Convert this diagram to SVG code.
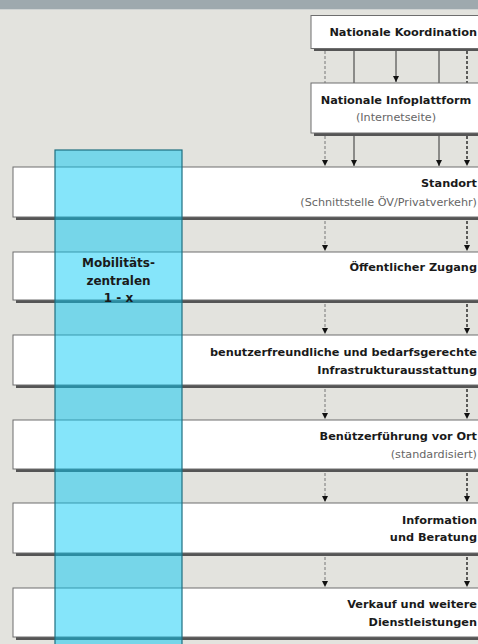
<svg xmlns="http://www.w3.org/2000/svg" width="478" height="644" viewBox="0 0 478 644">
<defs>
<style>
.bg{fill:#e3e3de}
.box{fill:#fff;stroke:#6e6e6e;stroke-width:1}
.sh{fill:#555}
.b{font-family:"DejaVu Sans",Verdana,sans-serif;font-weight:bold;font-size:11.3px;fill:#1a1a1a}
.m{font-family:"DejaVu Sans",Verdana,sans-serif;font-weight:bold;font-size:12px;fill:#1a1a1a}
.r{font-family:"DejaVu Sans",Verdana,sans-serif;font-size:11.2px;fill:#666}
.dl{stroke:#777;stroke-width:1;stroke-dasharray:3,2;fill:none}
.dr{stroke:#222;stroke-width:1.4;stroke-dasharray:3,2;fill:none}
.sl{stroke:#333;stroke-width:1;fill:none}
.col{fill:#00c8f5;fill-opacity:0.48;stroke:#1f6f80;stroke-width:1.2}
</style>
<marker id="ah" viewBox="0 0 6 6" refX="6" refY="3" markerWidth="6" markerHeight="6" markerUnits="userSpaceOnUse" orient="auto">
<path d="M0,0 L6,3 L0,6 z" fill="#111"/>
</marker>
</defs>
<rect class="bg" x="0" y="0" width="478" height="644"/>
<rect x="0" y="0" width="478" height="9" fill="#9ea9ae"/>
<line x1="0" y1="9.5" x2="478" y2="9.5" stroke="#cfd3d3" stroke-width="1"/>

<g id="connectors">
<line class="dl" x1="325" y1="51" x2="325" y2="83"/>
<line class="sl" x1="354" y1="51" x2="354" y2="83"/>
<line class="sl" x1="396" y1="51" x2="396" y2="82" marker-end="url(#ah)"/>
<line class="sl" x1="439" y1="51" x2="439" y2="83"/>
<line class="dr" x1="467" y1="51" x2="467" y2="83"/>
<line class="dl" x1="325" y1="136" x2="325" y2="166" marker-end="url(#ah)"/>
<line class="sl" x1="354" y1="136" x2="354" y2="166" marker-end="url(#ah)"/>
<line class="sl" x1="439" y1="136" x2="439" y2="166" marker-end="url(#ah)"/>
<line class="dr" x1="467" y1="136" x2="467" y2="166" marker-end="url(#ah)"/>
<line class="dl" x1="325" y1="221" x2="325" y2="251" marker-end="url(#ah)"/>
<line class="dr" x1="467" y1="221" x2="467" y2="251" marker-end="url(#ah)"/>
<line class="dl" x1="325" y1="304" x2="325" y2="334" marker-end="url(#ah)"/>
<line class="dr" x1="467" y1="304" x2="467" y2="334" marker-end="url(#ah)"/>
<line class="dl" x1="325" y1="389" x2="325" y2="419" marker-end="url(#ah)"/>
<line class="dr" x1="467" y1="389" x2="467" y2="419" marker-end="url(#ah)"/>
<line class="dl" x1="325" y1="473" x2="325" y2="502" marker-end="url(#ah)"/>
<line class="dr" x1="467" y1="473" x2="467" y2="502" marker-end="url(#ah)"/>
<line class="dl" x1="325" y1="557" x2="325" y2="587" marker-end="url(#ah)"/>
<line class="dr" x1="467" y1="557" x2="467" y2="587" marker-end="url(#ah)"/>
</g>

<g id="koordination">
<rect class="sh" x="314" y="18" width="180" height="33"/>
<rect class="box" x="311" y="15.5" width="180" height="33"/>
<text class="b" x="477" y="36" text-anchor="end">Nationale Koordination</text>
</g>

<g id="infoplattform">
<rect class="sh" x="314" y="86" width="180" height="50"/>
<rect class="box" x="311" y="83" width="180" height="50"/>
<text class="b" x="396" y="104" text-anchor="middle">Nationale Infoplattform</text>
<text class="r" x="396" y="121" text-anchor="middle">(Internetseite)</text>
</g>

<g id="standort">
<rect class="sh" x="16" y="170" width="480" height="50"/>
<rect class="box" x="13" y="167" width="480" height="50"/>
<text class="b" x="477" y="187" text-anchor="end">Standort</text>
<text class="r" x="477" y="206" text-anchor="end">(Schnittstelle ÖV/Privatverkehr)</text>
</g>

<g id="zugang">
<rect class="sh" x="16" y="255" width="480" height="48"/>
<rect class="box" x="13" y="252" width="480" height="48"/>
<text class="b" x="477" y="271" text-anchor="end">Öffentlicher Zugang</text>
</g>

<g id="infrastruktur">
<rect class="sh" x="16" y="338" width="480" height="50"/>
<rect class="box" x="13" y="335" width="480" height="50"/>
<text class="b" x="477" y="356" text-anchor="end">benutzerfreundliche und bedarfsgerechte</text>
<text class="b" x="477" y="374" text-anchor="end">Infrastrukturausstattung</text>
</g>

<g id="benuetzerfuehrung">
<rect class="sh" x="16" y="423" width="480" height="49"/>
<rect class="box" x="13" y="420" width="480" height="49"/>
<text class="b" x="477" y="440" text-anchor="end">Benützerführung vor Ort</text>
<text class="r" x="477" y="458" text-anchor="end">(standardisiert)</text>
</g>

<g id="information">
<rect class="sh" x="16" y="506" width="480" height="50"/>
<rect class="box" x="13" y="503" width="480" height="50"/>
<text class="b" x="477" y="524" text-anchor="end">Information</text>
<text class="b" x="477" y="541" text-anchor="end">und Beratung</text>
</g>

<g id="verkauf">
<rect class="sh" x="16" y="591" width="480" height="49"/>
<rect class="box" x="13" y="588" width="480" height="49"/>
<text class="b" x="477" y="608" text-anchor="end">Verkauf und weitere</text>
<text class="b" x="477" y="626" text-anchor="end">Dienstleistungen</text>
</g>

<g id="mobilitaetszentralen">
<rect class="col" x="55" y="150" width="127" height="500"/>
<text class="m" x="118.5" y="267" text-anchor="middle">Mobilitäts-</text>
<text class="m" x="118.5" y="285" text-anchor="middle">zentralen</text>
<text class="m" x="118.5" y="302" text-anchor="middle">1 - x</text>
</g>
</svg>
